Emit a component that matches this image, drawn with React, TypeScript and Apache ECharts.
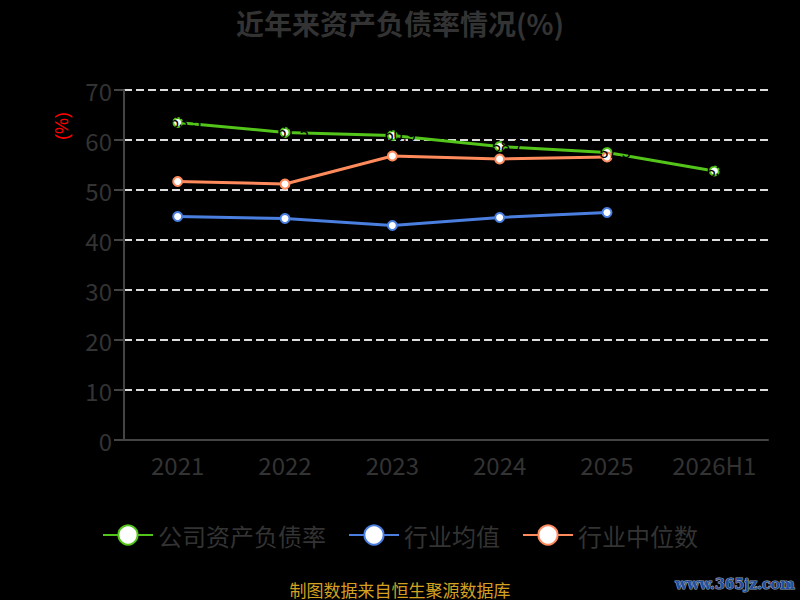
import React, { useEffect, useRef } from "react";
import * as echarts from "echarts";

const years = ["2021", "2022", "2023", "2024", "2025", "2026H1"];
const companyRatio = [63.5, 61.5, 60.9, 58.7, 57.5, 53.8];
const industryMean = [44.7, 44.3, 42.9, 44.5, 45.5];
const industryMedian = [51.7, 51.2, 56.8, 56.2, 56.6];

const GREEN = "#52c41a";
const BLUE = "#4a7fe0";
const ORANGE = "#ff8a5c";
const GREY = "#333333";

const App: React.FC = () => {
  const chartRef = useRef<HTMLDivElement>(null);

  useEffect(() => {
    document.body.style.margin = "0";
    document.body.style.background = "#000";
    if (!chartRef.current) return;
    const chart = echarts.init(chartRef.current, undefined, { renderer: "svg" });

    const lineSeries = (name: string, data: number[], color: string, withLabel: boolean) => ({
      name,
      type: "line",
      data,
      symbol: "circle",
      symbolSize: 9,
      lineStyle: { color, width: 3 },
      itemStyle: { color: "#ffffff", borderColor: color, borderWidth: 2 },
      label: {
        show: withLabel,
        position: "inside",
        color: "#000000",
        fontSize: 16,
        offset: [8, 0],
      },
    });

    chart.setOption({
      animation: false,
      backgroundColor: "#000000",
      title: {
        text: "近年来资产负债率情况(%)",
        left: "center",
        top: 4,
        textStyle: {
          color: GREY,
          fontSize: 28,
          fontWeight: "bold",
          fontFamily: "Noto Sans CJK SC",
        },
      },
      grid: { left: 124, right: 32, top: 90, bottom: 160 },
      xAxis: {
        type: "category",
        data: years,
        axisLine: { lineStyle: { color: "#444444", width: 2 } },
        axisTick: { lineStyle: { color: "#444444", width: 2 }, length: 8 },
        axisLabel: { color: GREY, fontSize: 24, margin: 12, interval: 0, fontFamily: "Noto Sans CJK SC" },
      },
      yAxis: {
        type: "value",
        min: 0,
        max: 70,
        interval: 10,
        axisLine: { show: true, lineStyle: { color: "#444444", width: 2 } },
        axisTick: { show: true, lineStyle: { color: "#444444", width: 2 }, length: 10 },
        axisLabel: { color: GREY, fontSize: 24, margin: 12, fontFamily: "Noto Sans CJK SC" },
        splitLine: { lineStyle: { color: "#dddddd", type: "dashed", width: 2 } },
      },
      legend: {
        bottom: 48,
        left: "center",
        itemWidth: 50,
        itemHeight: 24,
        itemGap: 22,
        textStyle: { color: GREY, fontSize: 24, fontFamily: "Noto Sans CJK SC" },
        data: ["公司资产负债率", "行业均值", "行业中位数"],
      },
      graphic: [
        {
          type: "text",
          x: 62,
          y: 126,
          rotation: Math.PI / 2,
          style: {
            text: "(%)",
            fill: "#ff0000",
            fontSize: 18,
            align: "center",
            verticalAlign: "middle",
          },
        },
        {
          type: "text",
          x: 400,
          y: 589,
          style: {
            text: "制图数据来自恒生聚源数据库",
            fill: "#d4a020",
            fontSize: 17,
            align: "center",
            verticalAlign: "middle",
            fontFamily: "Noto Sans CJK SC",
          },
        },
        {
          type: "text",
          x: 735,
          y: 584,
          style: {
            text: "www.365jz.com",
            fill: "#1f4f9e",
            stroke: "#9aa5b5",
            lineWidth: 1.2,
            fontSize: 14,
            fontWeight: "bold",
            fontFamily: "DejaVu Serif",
            align: "center",
            verticalAlign: "middle",
          },
        },
      ],
      series: [
        lineSeries("公司资产负债率", companyRatio, GREEN, true),
        lineSeries("行业均值", industryMean, BLUE, false),
        lineSeries("行业中位数", industryMedian, ORANGE, false),
      ],
    });

    return () => {
      chart.dispose();
    };
  }, []);

  return <div ref={chartRef} style={{ width: "800px", height: "600px" }} />;
};

export default App;
